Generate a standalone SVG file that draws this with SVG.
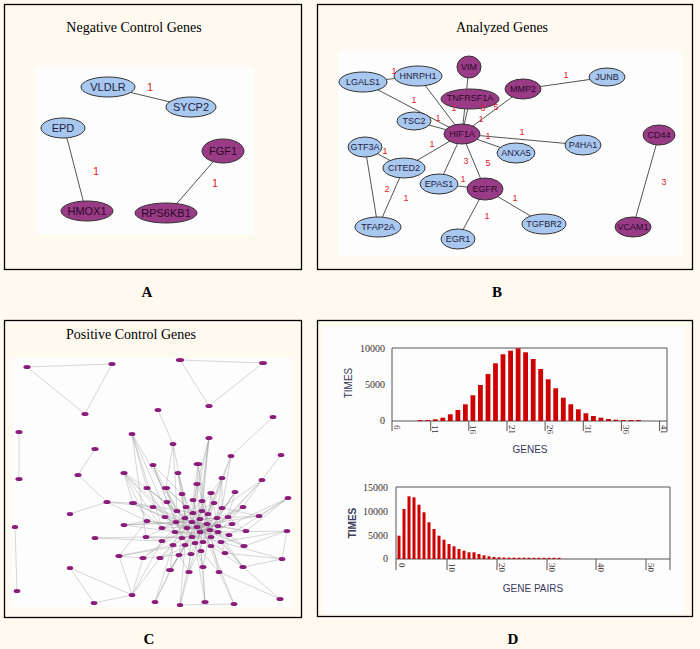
<svg xmlns="http://www.w3.org/2000/svg" width="700" height="649" viewBox="0 0 700 649">
<style>
.bg{fill:#fffaf0}
.panel{fill:none;stroke:#000;stroke-width:1.3}
.inner{fill:#fdfdfd}
.title{font-family:"Liberation Serif",serif;font-size:14px;fill:#000;text-anchor:middle}
.letter{font-family:"Liberation Serif",serif;font-size:15px;font-weight:bold;fill:#000;text-anchor:middle}
.nb{fill:#a9c8ef;stroke:#333;stroke-width:1}
.np{fill:#9a3b86;stroke:#333;stroke-width:1}
.ta{font-family:"Liberation Sans",Arial,sans-serif;font-size:11px;fill:#1e2040;text-anchor:middle}
.tb{font-family:"Liberation Sans",Arial,sans-serif;font-size:9px;fill:#1e2040;text-anchor:middle}
.tp{fill:#2a0a28}
.wa{font-family:"Liberation Sans",Arial,sans-serif;font-size:11px;fill:#e8202a;text-anchor:middle}
.wb{font-family:"Liberation Sans",Arial,sans-serif;font-size:9px;fill:#e8202a;text-anchor:middle}
.e{stroke:#555;stroke-width:1;fill:none}
.ce{stroke:#9a9a9a;stroke-width:0.5;fill:none;stroke-opacity:0.8}
.cn{fill:#8c1c7c}
.bar{fill:#cc0000}
.axis{stroke:#555;stroke-width:1;fill:none}
.yl{font-family:"Liberation Serif",serif;font-size:10px;fill:#3a3030;text-anchor:end}
.xl{font-family:"Liberation Serif",serif;font-size:9px;fill:#3a3030}
.at{font-family:"Liberation Sans",Arial,sans-serif;font-size:10px;fill:#3a3a5a;text-anchor:middle}
</style>
<rect class="bg" x="0" y="0" width="700" height="649"/>

<!-- Panel A -->
<g id="panelA">
<rect class="panel" x="4.5" y="4.5" width="297" height="265"/>
<text class="title" x="134" y="32">Negative Control Genes</text>
<rect class="inner" x="36" y="67" width="218" height="167"/>
<g id="A-connectors">
<path class="e" d="M108 87L191 107M63 128L68 142L83 200L87 211M223 151L212 163L179 201L166 213"/>
</g>
<g id="A-VLDLR"><ellipse class="nb" cx="108" cy="87" rx="27" ry="10"/><text class="ta" x="108" y="91">VLDLR</text></g>
<g id="A-SYCP2"><ellipse class="nb" cx="191" cy="107" rx="25" ry="10"/><text class="ta" x="191" y="111">SYCP2</text></g>
<g id="A-EPD"><ellipse class="nb" cx="63" cy="128" rx="22" ry="10"/><text class="ta" x="63" y="132">EPD</text></g>
<g id="A-HMOX1"><ellipse class="np" cx="87" cy="211" rx="26" ry="10"/><text class="ta tp" x="87" y="215">HMOX1</text></g>
<g id="A-FGF1"><ellipse class="np" cx="223" cy="151" rx="21" ry="12"/><text class="ta tp" x="223" y="155">FGF1</text></g>
<g id="A-RPS6KB1"><ellipse class="np" cx="166" cy="213" rx="31" ry="10"/><text class="ta tp" x="166" y="217">RPS6KB1</text></g>
<text class="wa" x="150" y="91">1</text>
<text class="wa" x="96" y="175">1</text>
<text class="wa" x="215" y="187">1</text>
</g>
<text class="letter" x="147" y="297">A</text>

<!-- Panel B -->
<g id="panelB">
<rect class="panel" x="317.5" y="4.5" width="375" height="265"/>
<text class="title" x="502" y="32">Analyzed Genes</text>
<rect class="inner" x="338" y="51" width="344" height="205"/>
<g id="B-connectors">
<path class="e" d="M363 82L418 76M363 82L462 134M418 76L462 134M469 67L462 134M470 99L462 134M523 89L462 134M523 89L607 77M414 121L462 134M462 134L583 145M462 134L516 153M462 134L404 168M462 134L439 184M462 134L485 189M365 147L404 168M365 147L378 227M404 168L378 227M439 184L485 189M485 189L458 239M485 189L544 224M659 135L633 227"/>
</g>
<g id="B-VIM"><ellipse class="np" cx="469" cy="67" rx="12" ry="11"/><text class="tb tp" x="469" y="70">VIM</text></g>
<g id="B-LGALS1"><ellipse class="nb" cx="363" cy="82" rx="24" ry="10"/><text class="tb" x="363" y="85">LGALS1</text></g>
<g id="B-HNRPH1"><ellipse class="nb" cx="418" cy="76" rx="24" ry="10"/><text class="tb" x="418" y="79">HNRPH1</text></g>
<g id="B-TNFRSF1A"><ellipse class="np" cx="470" cy="99" rx="29" ry="10"/><text class="tb tp" x="470" y="101">TNFRSF1A</text></g>
<g id="B-MMP2"><ellipse class="np" cx="523" cy="89" rx="18" ry="10"/><text class="tb tp" x="523" y="92">MMP2</text></g>
<g id="B-JUNB"><ellipse class="nb" cx="607" cy="77" rx="18" ry="9"/><text class="tb" x="607" y="80">JUNB</text></g>
<g id="B-TSC2"><ellipse class="nb" cx="414" cy="121" rx="17" ry="9"/><text class="tb" x="414" y="124">TSC2</text></g>
<g id="B-HIF1A"><ellipse class="np" cx="462" cy="134" rx="18" ry="10"/><text class="tb tp" x="462" y="137">HIF1A</text></g>
<g id="B-CD44"><ellipse class="np" cx="659" cy="135" rx="16" ry="10"/><text class="tb tp" x="659" y="138">CD44</text></g>
<g id="B-GTF3A"><ellipse class="nb" cx="365" cy="147" rx="17" ry="10"/><text class="tb" x="365" y="150">GTF3A</text></g>
<g id="B-CITED2"><ellipse class="nb" cx="404" cy="168" rx="21" ry="10"/><text class="tb" x="404" y="171">CITED2</text></g>
<g id="B-ANXA5"><ellipse class="nb" cx="516" cy="153" rx="19" ry="10"/><text class="tb" x="516" y="156">ANXA5</text></g>
<g id="B-P4HA1"><ellipse class="nb" cx="583" cy="145" rx="18" ry="10"/><text class="tb" x="583" y="148">P4HA1</text></g>
<g id="B-EPAS1"><ellipse class="nb" cx="439" cy="184" rx="19" ry="10"/><text class="tb" x="439" y="187">EPAS1</text></g>
<g id="B-EGFR"><ellipse class="np" cx="485" cy="189" rx="18" ry="11"/><text class="tb tp" x="485" y="192">EGFR</text></g>
<g id="B-TFAP2A"><ellipse class="nb" cx="378" cy="227" rx="23" ry="10"/><text class="tb" x="378" y="230">TFAP2A</text></g>
<g id="B-EGR1"><ellipse class="nb" cx="458" cy="239" rx="17" ry="10"/><text class="tb" x="458" y="242">EGR1</text></g>
<g id="B-TGFBR2"><ellipse class="nb" cx="544" cy="224" rx="22" ry="10"/><text class="tb" x="544" y="227">TGFBR2</text></g>
<g id="B-VCAM1"><ellipse class="np" cx="633" cy="227" rx="18" ry="10"/><text class="tb tp" x="633" y="230">VCAM1</text></g>
<g id="B-labels">
<text class="wb" x="394" y="74">1</text>
<text class="wb" x="414" y="103">1</text>
<text class="wb" x="454" y="111">1</text>
<text class="wb" x="483" y="111">3</text>
<text class="wb" x="496" y="110">5</text>
<text class="wb" x="481" y="122">1</text>
<text class="wb" x="566" y="78">1</text>
<text class="wb" x="438" y="121">1</text>
<text class="wb" x="488" y="139">1</text>
<text class="wb" x="522" y="135">1</text>
<text class="wb" x="432" y="147">1</text>
<text class="wb" x="385" y="154">1</text>
<text class="wb" x="387" y="192">2</text>
<text class="wb" x="406" y="201">1</text>
<text class="wb" x="466" y="164">3</text>
<text class="wb" x="488" y="166">5</text>
<text class="wb" x="463" y="182">1</text>
<text class="wb" x="487" y="219">1</text>
<text class="wb" x="515" y="201">1</text>
<text class="wb" x="664" y="185">3</text>
</g>
</g>
<text class="letter" x="497" y="297">B</text>

<!-- Panel C -->
<g id="panelC">
<rect class="panel" x="4.5" y="320.5" width="297" height="297"/>
<text class="title" x="131" y="339">Positive Control Genes</text>
<rect class="inner" x="12" y="358" width="280" height="249"/>
<g id="C-connectors">
<path class="ce" d="M27 367L112 364L85 414ZM180 360L263 363L209 406ZM158 410L173 444M273 417L231 456M19 432L19 479M95 449L78 475L107 502L70 514M15 527L17 591M70 568L94 603L132 595ZM132 595L119 556M281 455L262 480M180 605L234 604
M182 494L193 513M182 494L185 518M182 494L187 528M193 500L200 519M193 500L200 532M202 501L207 524M202 501L211 537M214 503L197 527M214 503L203 542M222 508L210 530M222 508L195 543M228 517L200 532M228 517L185 545M232 524L192 537M232 524L182 538M229 535L192 522M229 535L175 532M221 542L185 518M221 542L162 528M211 546L193 513M211 546L165 517M201 551L202 511M201 551L177 511M191 554L208 514M191 554L167 502M179 555L200 519M179 555L186 507M173 545L207 524M173 545L193 500M162 541L217 518M162 541L202 501M162 528L218 526M162 528L214 503M147 521L218 532M147 521L197 527M153 507L210 530M153 507L200 532M167 502L192 537M177 511L211 537M186 507L203 542M202 511L185 545M208 514L175 532M217 518L176 522M218 526L165 517M218 532L177 511M195 543L193 513M182 538L202 511M176 522L207 524M192 522L210 530M187 528L218 532
M133 503L162 528M133 503L176 522M133 503L187 528M133 503L193 513M147 488L177 511M147 488L185 518M147 488L197 527M147 488L175 532M166 488L193 513M166 488L187 528M166 488L182 538M166 488L200 519M197 484L192 522M197 484L200 532M197 484L185 545M197 484L208 514M211 493L207 524M211 493L211 537M211 493L187 528M211 493L218 526M235 492L217 518M235 492L210 530M235 492L203 542M235 492L228 517M243 507L218 526M243 507L200 532M243 507L218 532M243 507L197 527M124 525L176 522M124 525L192 522M124 525L175 532M124 525L147 521M146 537L182 538M146 537L192 537M146 537L185 518M146 537L162 541M119 556L173 545M119 556L185 545M119 556L147 521M119 556L143 558M143 558L175 532M143 558L187 528M143 558L191 554M160 558L182 538M160 558L195 543M160 558L192 522M170 570L185 545M170 570L192 537M170 570L197 527M170 570L173 545M189 572L200 532M189 572L192 522M189 572L179 555M189 572L203 542M203 567L210 530M203 567L197 527M203 567L195 543M219 572L211 537M219 572L200 519M219 572L201 551M243 567L218 532M243 567L207 524M243 567L211 546M243 567L221 542M244 546L210 530M244 546L197 527M244 546L229 535M246 531L218 526M246 531L192 522M246 531L228 517M259 516L207 524M259 516L200 519M259 516L222 508M225 553L200 532M225 553L211 537M225 553L221 542
M132 434L147 488M132 434L162 528M132 434L177 511M132 434L175 532M132 434L146 537M124 473L147 488M124 473L147 521M124 473L165 517M124 473L176 522M124 473L162 528M124 473L133 503M153 465L167 502M153 465L182 494M153 465L176 522M153 465L177 511M173 444L186 507M173 444L177 511M173 444L166 488M198 464L202 501M198 464L193 500M198 464L210 530M198 464L197 484M178 473L185 518M178 473L192 522M178 473L182 494M209 438L197 484M209 438L200 519M209 438L202 511M209 438L193 513M209 438L197 527M222 478L211 493M222 478L217 518M222 478L208 514M222 478L222 508M231 456L214 503M231 456L222 508M231 456L200 532M262 480L228 517M262 480L222 508M262 480L218 526M262 480L243 507M288 498L232 524M288 498L246 531M288 498L229 535M288 498L259 516M287 531L244 546M287 531L221 542M287 531L218 532M287 531L282 559M282 559L243 567M282 559L225 553M282 559L221 542M280 599L243 567M280 599L219 572M234 604L219 572M234 604L211 546M205 602L203 567M205 602L201 551M205 602L195 543M180 605L189 572M180 605L191 554M180 605L185 545M155 602L170 570M155 602L179 555M155 602L173 545M132 595L143 558M132 595L160 558M132 595L162 541M95 538L146 537M95 538L162 541M107 502L133 503M107 502L147 521M107 502L153 507"/>
</g>
<g id="C-nodes">
<g id="C-p1"><ellipse class="cn" cx="27" cy="367" rx="3.6" ry="2"/></g>
<g id="C-p2"><ellipse class="cn" cx="112" cy="364" rx="3.6" ry="2"/></g>
<g id="C-p3"><ellipse class="cn" cx="85" cy="414" rx="3.6" ry="2"/></g>
<g id="C-p4"><ellipse class="cn" cx="180" cy="360" rx="4.2" ry="2"/></g>
<g id="C-p5"><ellipse class="cn" cx="263" cy="363" rx="4" ry="2"/></g>
<g id="C-p6"><ellipse class="cn" cx="209" cy="406" rx="3.6" ry="2"/></g>
<g id="C-p7"><ellipse class="cn" cx="158" cy="410" rx="3.4" ry="2"/></g>
<g id="C-p8"><ellipse class="cn" cx="273" cy="417" rx="3.4" ry="2"/></g>
<g id="C-p9"><ellipse class="cn" cx="19" cy="432" rx="3.6" ry="2"/></g>
<g id="C-p10"><ellipse class="cn" cx="19" cy="479" rx="3.6" ry="2"/></g>
<g id="C-p11"><ellipse class="cn" cx="95" cy="449" rx="3.6" ry="2"/></g>
<g id="C-p12"><ellipse class="cn" cx="78" cy="475" rx="3.6" ry="2"/></g>
<g id="C-p13"><ellipse class="cn" cx="107" cy="502" rx="3.6" ry="2"/></g>
<g id="C-p14"><ellipse class="cn" cx="70" cy="514" rx="3.2" ry="2"/></g>
<g id="C-p15"><ellipse class="cn" cx="15" cy="527" rx="3.2" ry="2"/></g>
<g id="C-p16"><ellipse class="cn" cx="17" cy="591" rx="3.4" ry="2"/></g>
<g id="C-p17"><ellipse class="cn" cx="95" cy="538" rx="3.4" ry="2"/></g>
<g id="C-p18"><ellipse class="cn" cx="70" cy="568" rx="3.2" ry="2"/></g>
<g id="C-p19"><ellipse class="cn" cx="94" cy="603" rx="3.4" ry="2"/></g>
<g id="C-p20"><ellipse class="cn" cx="132" cy="595" rx="3.4" ry="2"/></g>
<g id="C-p21"><ellipse class="cn" cx="155" cy="602" rx="3.4" ry="2"/></g>
<g id="C-p22"><ellipse class="cn" cx="180" cy="605" rx="3.2" ry="2"/></g>
<g id="C-p23"><ellipse class="cn" cx="205" cy="602" rx="3.6" ry="2"/></g>
<g id="C-p24"><ellipse class="cn" cx="234" cy="604" rx="3.4" ry="2"/></g>
<g id="C-p25"><ellipse class="cn" cx="280" cy="599" rx="3.6" ry="2"/></g>
<g id="C-p26"><ellipse class="cn" cx="282" cy="559" rx="3.4" ry="2"/></g>
<g id="C-p27"><ellipse class="cn" cx="287" cy="531" rx="3.4" ry="2"/></g>
<g id="C-p28"><ellipse class="cn" cx="288" cy="498" rx="3.4" ry="2"/></g>
<g id="C-p29"><ellipse class="cn" cx="262" cy="480" rx="3.4" ry="2"/></g>
<g id="C-p30"><ellipse class="cn" cx="281" cy="455" rx="3.4" ry="2"/></g>
<g id="C-p31"><ellipse class="cn" cx="132" cy="434" rx="3.4" ry="2"/></g>
<g id="C-p32"><ellipse class="cn" cx="209" cy="438" rx="3.6" ry="2"/></g>
<g id="C-p33"><ellipse class="cn" cx="173" cy="444" rx="3.4" ry="2"/></g>
<g id="C-p34"><ellipse class="cn" cx="231" cy="456" rx="3.4" ry="2"/></g>
<g id="C-p35"><ellipse class="cn" cx="124" cy="473" rx="3.6" ry="2"/></g>
<g id="C-p36"><ellipse class="cn" cx="153" cy="465" rx="3.4" ry="2"/></g>
<g id="C-p37"><ellipse class="cn" cx="198" cy="464" rx="4.4" ry="2"/></g>
<g id="C-p38"><ellipse class="cn" cx="178" cy="473" rx="3.4" ry="2"/></g>
<g id="C-p39"><ellipse class="cn" cx="222" cy="478" rx="3.4" ry="2"/></g>
<g id="C-m1"><ellipse class="cn" cx="133" cy="503" rx="4" ry="2"/></g>
<g id="C-m2"><ellipse class="cn" cx="147" cy="488" rx="3.6" ry="2"/></g>
<g id="C-m3"><ellipse class="cn" cx="166" cy="488" rx="4.2" ry="2"/></g>
<g id="C-m4"><ellipse class="cn" cx="197" cy="484" rx="3.6" ry="2"/></g>
<g id="C-m5"><ellipse class="cn" cx="211" cy="493" rx="3.6" ry="2"/></g>
<g id="C-m6"><ellipse class="cn" cx="235" cy="492" rx="3.4" ry="2"/></g>
<g id="C-m7"><ellipse class="cn" cx="243" cy="507" rx="3.4" ry="2"/></g>
<g id="C-m8"><ellipse class="cn" cx="124" cy="525" rx="3.4" ry="2"/></g>
<g id="C-m9"><ellipse class="cn" cx="146" cy="537" rx="3.4" ry="2"/></g>
<g id="C-m10"><ellipse class="cn" cx="119" cy="556" rx="3.6" ry="2"/></g>
<g id="C-m11"><ellipse class="cn" cx="143" cy="558" rx="3.6" ry="2"/></g>
<g id="C-m12"><ellipse class="cn" cx="160" cy="558" rx="3.6" ry="2"/></g>
<g id="C-m13"><ellipse class="cn" cx="170" cy="570" rx="4" ry="2"/></g>
<g id="C-m14"><ellipse class="cn" cx="189" cy="572" rx="3.6" ry="2"/></g>
<g id="C-m15"><ellipse class="cn" cx="203" cy="567" rx="3.6" ry="2"/></g>
<g id="C-m16"><ellipse class="cn" cx="219" cy="572" rx="3.4" ry="2"/></g>
<g id="C-m17"><ellipse class="cn" cx="243" cy="567" rx="3.6" ry="2"/></g>
<g id="C-m18"><ellipse class="cn" cx="244" cy="546" rx="3.6" ry="2"/></g>
<g id="C-m19"><ellipse class="cn" cx="246" cy="531" rx="3.4" ry="2"/></g>
<g id="C-m20"><ellipse class="cn" cx="259" cy="516" rx="3.4" ry="2"/></g>
<g id="C-m21"><ellipse class="cn" cx="225" cy="553" rx="3.4" ry="2"/></g>
<g id="C-k1"><ellipse class="cn" cx="182" cy="494" rx="3.4" ry="2"/></g>
<g id="C-k2"><ellipse class="cn" cx="193" cy="500" rx="3.4" ry="2"/></g>
<g id="C-k3"><ellipse class="cn" cx="202" cy="501" rx="3.4" ry="2"/></g>
<g id="C-k4"><ellipse class="cn" cx="214" cy="503" rx="3.4" ry="2"/></g>
<g id="C-k5"><ellipse class="cn" cx="222" cy="508" rx="3.4" ry="2"/></g>
<g id="C-k6"><ellipse class="cn" cx="228" cy="517" rx="3.4" ry="2"/></g>
<g id="C-k7"><ellipse class="cn" cx="232" cy="524" rx="3.4" ry="2"/></g>
<g id="C-k8"><ellipse class="cn" cx="229" cy="535" rx="3.4" ry="2"/></g>
<g id="C-k9"><ellipse class="cn" cx="221" cy="542" rx="3.4" ry="2"/></g>
<g id="C-k10"><ellipse class="cn" cx="211" cy="546" rx="3.4" ry="2"/></g>
<g id="C-k11"><ellipse class="cn" cx="201" cy="551" rx="3.4" ry="2"/></g>
<g id="C-k12"><ellipse class="cn" cx="191" cy="554" rx="3.4" ry="2"/></g>
<g id="C-k13"><ellipse class="cn" cx="179" cy="555" rx="3.4" ry="2"/></g>
<g id="C-k14"><ellipse class="cn" cx="173" cy="545" rx="3.4" ry="2"/></g>
<g id="C-k15"><ellipse class="cn" cx="162" cy="541" rx="3.4" ry="2"/></g>
<g id="C-k16"><ellipse class="cn" cx="162" cy="528" rx="3.4" ry="2"/></g>
<g id="C-k17"><ellipse class="cn" cx="147" cy="521" rx="3.4" ry="2"/></g>
<g id="C-k18"><ellipse class="cn" cx="153" cy="507" rx="3.4" ry="2"/></g>
<g id="C-k19"><ellipse class="cn" cx="167" cy="502" rx="3.4" ry="2"/></g>
<g id="C-k20"><ellipse class="cn" cx="177" cy="511" rx="3.4" ry="2"/></g>
<g id="C-k21"><ellipse class="cn" cx="186" cy="507" rx="3.4" ry="2"/></g>
<g id="C-k22"><ellipse class="cn" cx="193" cy="513" rx="3.4" ry="2"/></g>
<g id="C-k23"><ellipse class="cn" cx="202" cy="511" rx="3.4" ry="2"/></g>
<g id="C-k24"><ellipse class="cn" cx="208" cy="514" rx="3.4" ry="2"/></g>
<g id="C-k25"><ellipse class="cn" cx="217" cy="518" rx="3.4" ry="2"/></g>
<g id="C-k26"><ellipse class="cn" cx="218" cy="526" rx="3.4" ry="2"/></g>
<g id="C-k27"><ellipse class="cn" cx="218" cy="532" rx="3.4" ry="2"/></g>
<g id="C-k28"><ellipse class="cn" cx="211" cy="537" rx="3.4" ry="2"/></g>
<g id="C-k29"><ellipse class="cn" cx="203" cy="542" rx="3.4" ry="2"/></g>
<g id="C-k30"><ellipse class="cn" cx="195" cy="543" rx="3.4" ry="2"/></g>
<g id="C-k31"><ellipse class="cn" cx="185" cy="545" rx="3.4" ry="2"/></g>
<g id="C-k32"><ellipse class="cn" cx="182" cy="538" rx="3.4" ry="2"/></g>
<g id="C-k33"><ellipse class="cn" cx="175" cy="532" rx="3.4" ry="2"/></g>
<g id="C-k34"><ellipse class="cn" cx="165" cy="517" rx="3.4" ry="2"/></g>
<g id="C-k35"><ellipse class="cn" cx="176" cy="522" rx="3.4" ry="2"/></g>
<g id="C-k36"><ellipse class="cn" cx="185" cy="518" rx="3.4" ry="2"/></g>
<g id="C-k37"><ellipse class="cn" cx="192" cy="522" rx="3.4" ry="2"/></g>
<g id="C-k38"><ellipse class="cn" cx="200" cy="519" rx="3.4" ry="2"/></g>
<g id="C-k39"><ellipse class="cn" cx="207" cy="524" rx="3.4" ry="2"/></g>
<g id="C-k40"><ellipse class="cn" cx="210" cy="530" rx="3.4" ry="2"/></g>
<g id="C-k41"><ellipse class="cn" cx="200" cy="532" rx="3.4" ry="2"/></g>
<g id="C-k42"><ellipse class="cn" cx="192" cy="537" rx="3.4" ry="2"/></g>
<g id="C-k43"><ellipse class="cn" cx="187" cy="528" rx="3.4" ry="2"/></g>
<g id="C-k44"><ellipse class="cn" cx="197" cy="527" rx="3.4" ry="2"/></g>
</g>
</g>
<text class="letter" x="149" y="644">C</text>

<!-- Panel D -->
<g id="panelD">
<rect class="panel" x="317.5" y="320.5" width="375" height="296"/>
<rect class="inner" x="323" y="327" width="361" height="287"/>

<g id="hist-genes">
<path class="axis" d="M392 348H667V431M392 348V431M392 421H667M430.7 421V431M468.8 421V431M507 421V431M545.1 421V431M583.3 421V431M621.4 421V431M659.6 421V431"/>
<g class="bars">
<rect class="bar" x="417.8" y="420" width="4.8" height="1"/>
<rect class="bar" x="425.3" y="420" width="4.8" height="1"/>
<rect class="bar" x="432.9" y="419.3" width="4.8" height="1.7"/>
<rect class="bar" x="440.4" y="417.7" width="4.8" height="3.3"/>
<rect class="bar" x="447.9" y="414.3" width="4.8" height="6.7"/>
<rect class="bar" x="455.5" y="410" width="4.8" height="11"/>
<rect class="bar" x="463.0" y="404.3" width="4.8" height="16.7"/>
<rect class="bar" x="470.5" y="395.3" width="4.8" height="25.7"/>
<rect class="bar" x="478.0" y="385" width="4.8" height="36"/>
<rect class="bar" x="485.6" y="374" width="4.8" height="47"/>
<rect class="bar" x="493.1" y="363.3" width="4.8" height="57.7"/>
<rect class="bar" x="500.6" y="354.3" width="4.8" height="66.7"/>
<rect class="bar" x="508.2" y="350.7" width="4.8" height="70.3"/>
<rect class="bar" x="515.7" y="348.3" width="4.8" height="72.7"/>
<rect class="bar" x="523.2" y="352.3" width="4.8" height="68.7"/>
<rect class="bar" x="530.8" y="359" width="4.8" height="62"/>
<rect class="bar" x="538.3" y="369" width="4.8" height="52"/>
<rect class="bar" x="545.8" y="379.3" width="4.8" height="41.7"/>
<rect class="bar" x="553.3" y="388.3" width="4.8" height="32.7"/>
<rect class="bar" x="560.9" y="397.7" width="4.8" height="23.3"/>
<rect class="bar" x="568.4" y="404.3" width="4.8" height="16.7"/>
<rect class="bar" x="575.9" y="409.3" width="4.8" height="11.7"/>
<rect class="bar" x="583.5" y="413.3" width="4.8" height="7.7"/>
<rect class="bar" x="591.0" y="416" width="4.8" height="5"/>
<rect class="bar" x="598.5" y="417.7" width="4.8" height="3.3"/>
<rect class="bar" x="606.1" y="419" width="4.8" height="2"/>
<rect class="bar" x="613.6" y="419.7" width="4.8" height="1.3"/>
<rect class="bar" x="621.1" y="420" width="4.8" height="1"/>
<rect class="bar" x="628.6" y="420" width="4.8" height="1"/>
<rect class="bar" x="636.2" y="420" width="4.8" height="1"/>
</g>
<text class="yl" x="385" y="352">10000</text>
<text class="yl" x="385" y="388">5000</text>
<text class="yl" x="385" y="424">0</text>
<text class="xl" x="394" y="425" transform="rotate(90 394 425)">6</text>
<text class="xl" x="432.2" y="425" transform="rotate(90 432.2 425)">11</text>
<text class="xl" x="470.3" y="425" transform="rotate(90 470.3 425)">16</text>
<text class="xl" x="508.5" y="425" transform="rotate(90 508.5 425)">21</text>
<text class="xl" x="546.6" y="425" transform="rotate(90 546.6 425)">26</text>
<text class="xl" x="584.8" y="425" transform="rotate(90 584.8 425)">31</text>
<text class="xl" x="622.9" y="425" transform="rotate(90 622.9 425)">36</text>
<text class="xl" x="661.1" y="425" transform="rotate(90 661.1 425)">41</text>
<text class="at" x="348" y="383" transform="rotate(-90 348 383)" dy="3.5">TIMES</text>
<text class="at" x="530" y="453">GENES</text>
</g>

<g id="hist-pairs">
<path class="axis" d="M396 487H670V570M396 487V570M396 559H670M447 559V570M497 559V570M547 559V570M596 559V570M646 559V570"/>
<g class="bars">
<rect class="bar" x="397.5" y="535.7" width="3" height="23.3"/>
<rect class="bar" x="402.5" y="509" width="3" height="50"/>
<rect class="bar" x="407.5" y="496.3" width="3" height="62.7"/>
<rect class="bar" x="412.5" y="497.3" width="3" height="61.7"/>
<rect class="bar" x="417.5" y="504.7" width="3" height="54.3"/>
<rect class="bar" x="422.5" y="512.3" width="3" height="46.7"/>
<rect class="bar" x="427.5" y="522.3" width="3" height="36.7"/>
<rect class="bar" x="432.5" y="529" width="3" height="30"/>
<rect class="bar" x="437.5" y="535.7" width="3" height="23.3"/>
<rect class="bar" x="442.5" y="539.7" width="3" height="19.3"/>
<rect class="bar" x="447.5" y="544" width="3" height="15"/>
<rect class="bar" x="452.5" y="546.3" width="3" height="12.7"/>
<rect class="bar" x="457.5" y="549" width="3" height="10"/>
<rect class="bar" x="462.5" y="550.7" width="3" height="8.3"/>
<rect class="bar" x="467.5" y="552.3" width="3" height="6.7"/>
<rect class="bar" x="472.5" y="552.3" width="3" height="6.7"/>
<rect class="bar" x="477.5" y="554" width="3" height="5"/>
<rect class="bar" x="482.5" y="555.3" width="3" height="3.7"/>
<rect class="bar" x="487.5" y="556.3" width="3" height="2.7"/>
<rect class="bar" x="492.5" y="557" width="3" height="2"/>
<rect class="bar" x="497.5" y="557.3" width="3" height="1.7"/>
<rect class="bar" x="502.5" y="557.6" width="3" height="1.4"/>
<rect class="bar" x="507.5" y="557.6" width="3" height="1.4"/>
<rect class="bar" x="512.5" y="557.7" width="3" height="1.3"/>
<rect class="bar" x="517.5" y="557.7" width="3" height="1.3"/>
<rect class="bar" x="522.5" y="557.7" width="3" height="1.3"/>
<rect class="bar" x="527.5" y="557.7" width="3" height="1.3"/>
<rect class="bar" x="532.5" y="557.8" width="3" height="1.2"/>
<rect class="bar" x="537.5" y="557.8" width="3" height="1.2"/>
<rect class="bar" x="542.5" y="557.8" width="3" height="1.2"/>
<rect class="bar" x="547.5" y="557.8" width="3" height="1.2"/>
<rect class="bar" x="552.5" y="557.8" width="3" height="1.2"/>
<rect class="bar" x="557.5" y="557.8" width="3" height="1.2"/>
</g>
<text class="yl" x="388" y="491">15000</text>
<text class="yl" x="388" y="515">10000</text>
<text class="yl" x="388" y="539">5000</text>
<text class="yl" x="388" y="562">0</text>
<text class="xl" x="398.5" y="563" transform="rotate(90 398.5 563)">0</text>
<text class="xl" x="448.5" y="563" transform="rotate(90 448.5 563)">10</text>
<text class="xl" x="498.5" y="563" transform="rotate(90 498.5 563)">20</text>
<text class="xl" x="548.5" y="563" transform="rotate(90 548.5 563)">30</text>
<text class="xl" x="597.5" y="563" transform="rotate(90 597.5 563)">40</text>
<text class="xl" x="647.5" y="563" transform="rotate(90 647.5 563)">50</text>
<text class="at" x="352" y="523" transform="rotate(-90 352 523)" dy="3.5" font-weight="bold">TIMES</text>
<text class="at" x="533" y="592">GENE PAIRS</text>
</g>
</g>
<text class="letter" x="513" y="644">D</text>
</svg>
